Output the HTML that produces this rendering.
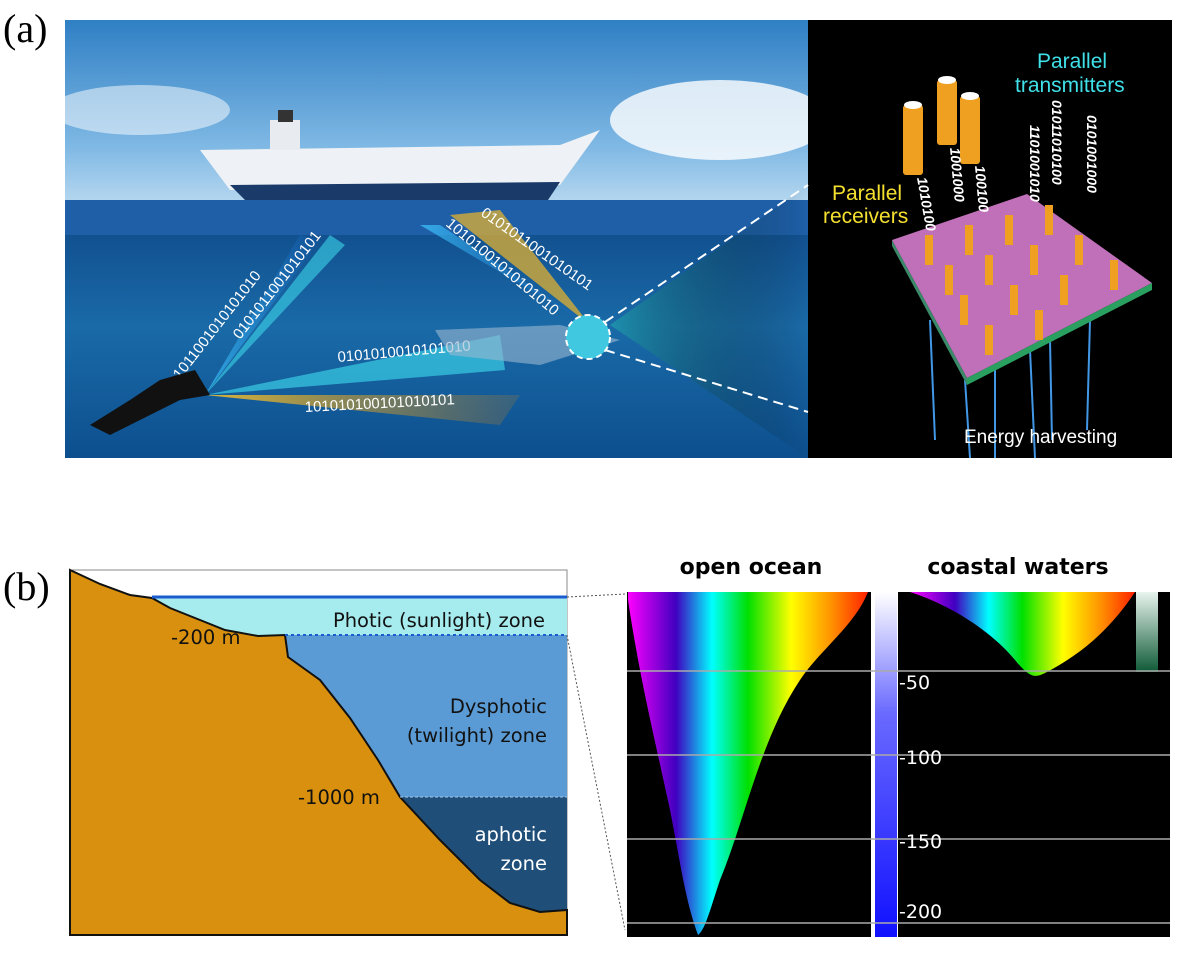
<!DOCTYPE html>
<html><head><meta charset="utf-8"><style>
html,body{margin:0;padding:0;background:#fff;}
svg{display:block}
</style></head><body>
<svg width="1200" height="958" viewBox="0 0 1200 958" xmlns="http://www.w3.org/2000/svg" font-family="Liberation Sans, sans-serif">
<defs>
<linearGradient id="sky" x1="0" y1="0" x2="0" y2="1">
<stop offset="0" stop-color="#2f7fc4"/><stop offset="0.6" stop-color="#7fb8e4"/><stop offset="1" stop-color="#cfe6f5"/></linearGradient>
<linearGradient id="sea" x1="0" y1="0" x2="0" y2="1">
<stop offset="0" stop-color="#0b3f86"/><stop offset="0.3" stop-color="#0a3a7a"/><stop offset="0.7" stop-color="#1a6aa8"/><stop offset="1" stop-color="#0d4f8e"/></linearGradient>
<linearGradient id="rb" x1="0" y1="0" x2="1" y2="0">
<stop offset="0" stop-color="#ff00ff"/><stop offset="0.2" stop-color="#4000c0"/><stop offset="0.35" stop-color="#00ffff"/><stop offset="0.5" stop-color="#00e000"/><stop offset="0.68" stop-color="#ffff00"/><stop offset="0.85" stop-color="#ff9000"/><stop offset="1" stop-color="#ff2000"/></linearGradient>
<linearGradient id="bar" x1="0" y1="0" x2="0" y2="1">
<stop offset="0" stop-color="#ffffff"/><stop offset="0.35" stop-color="#6a6aff"/><stop offset="1" stop-color="#1010ff"/></linearGradient>
<linearGradient id="gbar" x1="0" y1="0" x2="0" y2="1">
<stop offset="0" stop-color="#e8f4ee"/><stop offset="1" stop-color="#0e5a36"/></linearGradient>
<linearGradient id="beamB" x1="0" y1="0" x2="1" y2="0">
<stop offset="0" stop-color="#40c8ff" stop-opacity="0.9"/><stop offset="1" stop-color="#1060c0" stop-opacity="0.2"/></linearGradient>
<linearGradient id="beamY" x1="0" y1="0" x2="1" y2="0">
<stop offset="0" stop-color="#f0c030" stop-opacity="0.9"/><stop offset="1" stop-color="#c08020" stop-opacity="0.2"/></linearGradient>
<linearGradient id="cone" x1="0" y1="0" x2="1" y2="0">
<stop offset="0" stop-color="#20a0b0" stop-opacity="0.7"/><stop offset="1" stop-color="#000" stop-opacity="0"/></linearGradient>
</defs>

<!-- (a) -->
<text x="3" y="42" font-family="Liberation Serif, serif" font-size="40">(a)</text>
<rect x="65" y="20" width="745" height="438" fill="url(#sea)"/>
<rect x="65" y="20" width="745" height="210" fill="url(#sky)"/>
<ellipse cx="720" cy="120" rx="110" ry="40" fill="#fff" opacity="0.8"/>
<ellipse cx="140" cy="110" rx="90" ry="25" fill="#fff" opacity="0.5"/>
<rect x="65" y="200" width="745" height="35" fill="#1e5fa8"/>
<!-- ship -->
<path d="M200 150 L560 145 L600 130 L560 185 L230 190 Z" fill="#eef2f6"/>
<path d="M230 185 L560 182 L548 200 L245 200 Z" fill="#1a3a6a"/>
<rect x="270" y="120" width="30" height="30" fill="#e8ecf0"/>
<rect x="278" y="110" width="15" height="12" fill="#333"/>
<!-- beams -->
<polygon points="205,395 300,235 320,240" fill="url(#beamB)" opacity="0.8"/>
<polygon points="205,395 330,235 345,245" fill="#40e0f0" opacity="0.55"/>
<polygon points="205,395 500,335 505,370" fill="#40e0f0" opacity="0.6"/>
<polygon points="205,395 520,395 500,425" fill="url(#beamY)"/>
<polygon points="590,325 420,225 440,225" fill="url(#beamB)" opacity="0.8"/>
<polygon points="590,325 450,215 500,210" fill="#e0b030" opacity="0.75"/>
<g fill="#fff" font-size="15">
<text transform="translate(180,380) rotate(-52)">1011001010101010</text>
<text transform="translate(240,340) rotate(-52)">0101011001010101</text>
<text transform="translate(338,362) rotate(-5)">0101010010101010</text>
<text transform="translate(305,412) rotate(-3)">101010100101010101</text>
<text transform="translate(480,215) rotate(35)">0101011001010101</text>
<text transform="translate(445,225) rotate(40)">10101001010101010</text>
</g>
<path d="M435 330 L560 325 L620 340 L540 365 L450 355 Z" fill="#9ab8d0" opacity="0.6"/>
<circle cx="588" cy="337" r="22" fill="#3fc8e0" stroke="#fff" stroke-width="2" stroke-dasharray="6 4"/>
<path d="M90 425 L130 400 L160 380 L195 370 L210 395 L180 400 L140 420 L110 435 Z" fill="#111"/>
<!-- right dark panel -->
<rect x="808" y="20" width="364" height="438" fill="#000"/>
<polygon points="610,325 808,185 808,458" fill="url(#cone)"/>
<line x1="605" y1="322" x2="808" y2="185" stroke="#fff" stroke-width="2" stroke-dasharray="10 6"/>
<line x1="605" y1="350" x2="808" y2="412" stroke="#fff" stroke-width="2" stroke-dasharray="10 6"/>
<g stroke="#4aa8ff" stroke-width="2" opacity="0.9">
<line x1="930" y1="320" x2="935" y2="440"/><line x1="965" y1="380" x2="970" y2="458"/><line x1="995" y1="365" x2="995" y2="458"/><line x1="1030" y1="350" x2="1035" y2="458"/><line x1="1050" y1="340" x2="1052" y2="440"/><line x1="1090" y1="320" x2="1087" y2="430"/>
</g>
<polygon points="892,240 1027,194 1152,283 967,378" fill="#c070b8"/>
<polygon points="892,240 967,378 967,385 892,246" fill="#3a8a6a"/>
<polygon points="967,378 1152,283 1152,290 967,385" fill="#2aa060"/>
<g fill="#f0a020">
<rect x="903" y="105" width="20" height="70" rx="3"/><rect x="937" y="80" width="20" height="65" rx="3"/><rect x="960" y="96" width="20" height="68" rx="3"/>
</g>
<g fill="#fff"><ellipse cx="913" cy="105" rx="9" ry="4"/><ellipse cx="947" cy="80" rx="9" ry="4"/><ellipse cx="970" cy="96" rx="9" ry="4"/></g>
<g fill="#f0a020">
<rect x="925" y="235" width="8" height="30"/><rect x="965" y="225" width="8" height="30"/><rect x="1005" y="215" width="8" height="30"/><rect x="1045" y="205" width="8" height="30"/>
<rect x="945" y="265" width="8" height="30"/><rect x="985" y="255" width="8" height="30"/><rect x="1030" y="245" width="8" height="30"/><rect x="1075" y="235" width="8" height="30"/>
<rect x="960" y="295" width="8" height="30"/><rect x="1010" y="285" width="8" height="30"/><rect x="1060" y="275" width="8" height="30"/><rect x="1110" y="260" width="8" height="30"/>
<rect x="985" y="325" width="8" height="30"/><rect x="1035" y="310" width="8" height="30"/>
</g>
<text x="832" y="200" fill="#f5e030" font-size="21">Parallel</text>
<text x="823" y="223" fill="#f5e030" font-size="21">receivers</text>
<text x="1037" y="68" fill="#40e0e8" font-size="21">Parallel</text>
<text x="1015" y="92" fill="#40e0e8" font-size="21">transmitters</text>
<g fill="#fff" font-size="14" font-weight="bold" font-style="italic">
<text transform="translate(1052,100) rotate(90)">01011010100</text>
<text transform="translate(1030,125) rotate(90)">1101001010</text>
<text transform="translate(1087,115) rotate(90)">0101001000</text>
<text transform="translate(917,178) rotate(80)">1010100</text>
<text transform="translate(950,148) rotate(85)">1001000</text>
<text transform="translate(975,166) rotate(85)">100100</text>
</g>
<text x="964" y="443" fill="#fff" font-size="19">Energy harvesting</text>

<!-- (b) -->
<text x="3" y="600" font-family="Liberation Serif, serif" font-size="40">(b)</text>
<rect x="70" y="570" width="497" height="365" fill="#fff" stroke="#888" stroke-width="1"/>
<rect x="152" y="597" width="415" height="38" fill="#a6ebee"/>
<rect x="152" y="635" width="415" height="162" fill="#5b9bd5"/>
<rect x="152" y="797" width="415" height="120" fill="#1f4e79"/>
<path d="M70 570 L100 584 L130 595 L152 598 L170 608 L200 620 L225 630 L258 636 L285 635 L288 657 L320 680 L350 718 L378 760 L400 797 L440 840 L480 880 L510 903 L540 912 L567 910 L567 935 L70 935 Z" fill="#d8900e" stroke="#111" stroke-width="2"/>
<line x1="152" y1="597" x2="567" y2="597" stroke="#1a5bd0" stroke-width="3"/>
<line x1="285" y1="635" x2="567" y2="635" stroke="#1a5bd0" stroke-width="2" stroke-dasharray="3 3"/>
<line x1="400" y1="797" x2="567" y2="797" stroke="#a0c8f0" stroke-width="1" stroke-dasharray="3 2"/>
<g font-family="DejaVu Sans, sans-serif" font-size="19.5" fill="#111">
<text x="545" y="627" text-anchor="end">Photic (sunlight) zone</text>
<text x="171" y="644">-200 m</text>
<text x="547" y="713" text-anchor="end">Dysphotic</text>
<text x="547" y="742" text-anchor="end">(twilight) zone</text>
<text x="298" y="804">-1000 m</text>
<text x="547" y="841" text-anchor="end" fill="#fff">aphotic</text>
<text x="547" y="870" text-anchor="end" fill="#fff">zone</text>
</g>
<line x1="567" y1="597" x2="625" y2="594" stroke="#555" stroke-dasharray="2 2"/>
<line x1="567" y1="635" x2="625" y2="930" stroke="#555" stroke-dasharray="2 2"/>

<text x="751" y="574" text-anchor="middle" font-family="DejaVu Sans, sans-serif" font-weight="bold" font-size="22">open ocean</text>
<text x="1018" y="574" text-anchor="middle" font-family="DejaVu Sans, sans-serif" font-weight="bold" font-size="22">coastal waters</text>
<rect x="627" y="592" width="244" height="345" fill="#000"/>
<rect x="898" y="592" width="272" height="345" fill="#000"/>
<rect x="875" y="592" width="22" height="345" fill="url(#bar)"/>
<path d="M628 592 L868 592 C855 625 820 650 800 680 C760 740 745 820 720 880 C710 910 705 930 698 935 C685 900 680 860 670 810 C655 740 640 680 628 600 Z" fill="url(#rb)"/>
<path d="M910 592 L1135 592 C1110 630 1080 655 1045 673 C1035 678 1030 678 1015 660 C990 630 950 605 910 592 Z" fill="url(#rb)"/>
<rect x="1136" y="592" width="22" height="80" fill="url(#gbar)"/>
<g stroke="#aaa" stroke-width="1.5">
<line x1="627" y1="671" x2="1170" y2="671"/><line x1="627" y1="755" x2="1170" y2="755"/><line x1="627" y1="839" x2="1170" y2="839"/><line x1="627" y1="923" x2="1170" y2="923"/>
</g>
<g fill="#fff" font-family="DejaVu Sans, sans-serif" font-size="19">
<text x="899" y="689">-50</text><text x="899" y="764">-100</text><text x="899" y="848">-150</text><text x="899" y="918">-200</text>
</g>
</svg>
</body></html>
